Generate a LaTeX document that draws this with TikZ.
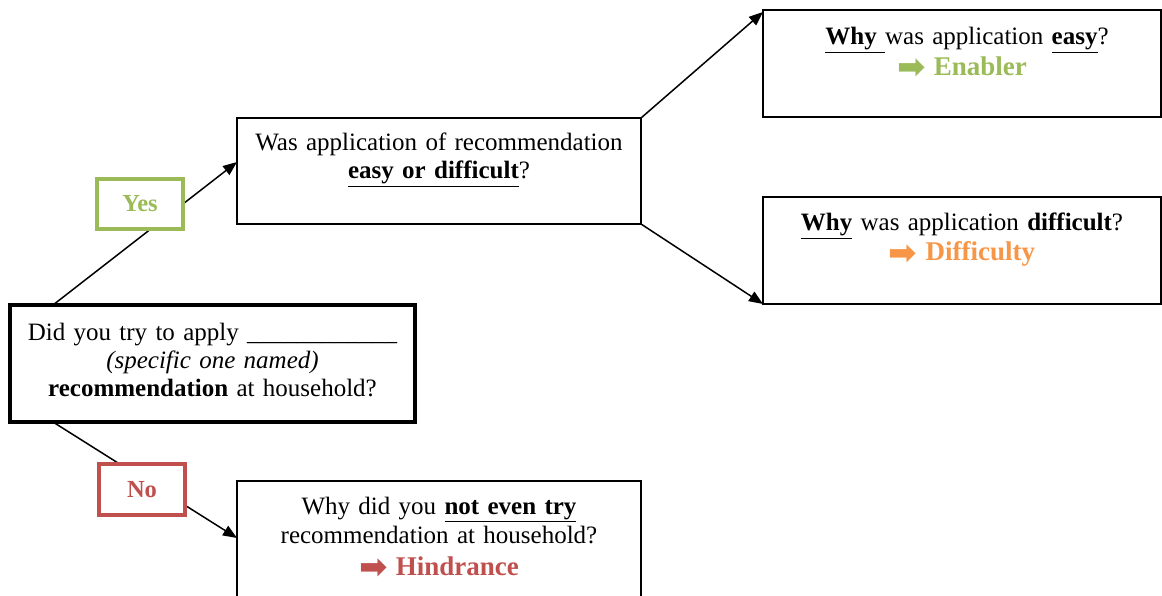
\documentclass[tikz,border=0pt]{standalone}
\usepackage{fontspec}
\setmainfont{Liberation Serif}
\newfontfamily\symfont{DejaVu Sans}
\usetikzlibrary{arrows.meta,calc}
\definecolor{okgreen}{HTML}{9BBB59}
\definecolor{difforange}{HTML}{F79646}
\definecolor{hindred}{HTML}{C0504D}
\newcommand{\bigarrow}{\raisebox{-3pt}{\symfont\fontsize{34}{34}\selectfont ➡}}
\begin{document}
\begin{tikzpicture}[x=1pt,y=-1pt,
  qbox/.style={draw, rectangle, line width=1.5pt, inner sep=0pt, outer sep=0pt, anchor=north west},
  qtext/.style={anchor=base, align=center, inner sep=0pt, text width=395pt, font=\fontsize{25}{28}\selectfont},
  tag/.style={draw, rectangle, line width=4pt, fill=white, inner sep=0pt, minimum width=86pt, font=\fontsize{24.5}{28}\selectfont\bfseries},
  conn/.style={line width=1.5pt, -{Triangle[length=14pt,width=11pt]}}]
\clip (0,0) rectangle (1162,596);
\fill[white] (0,0) rectangle (1162,596);

% boxes
\node[qbox, line width=4pt, minimum width=405pt, minimum height=117pt] (main) at (10,305) {};
\node[qbox, minimum width=404pt, minimum height=106pt] (mid) at (237,118) {};
\node[qbox, minimum width=398pt, minimum height=107pt] (easy) at (763,10) {};
\node[qbox, minimum width=398pt, minimum height=107pt] (hard) at (763,197) {};
\node[qbox, minimum width=404pt, minimum height=140pt] (nottry) at (237,481) {};

% texts
\node[qtext] (maint) at ($(main.north)+(0,35)$)
  {Did you try to apply \_\_\_\_\_\_\_\_\_\_\_\_\\
   \textit{(specific one named)}\\
   \textbf{recommendation} at household?};
\node[qtext] (midt) at ($(mid.north)+(0,33)$)
  {Was application of recommendation\\
   \underline{\textbf{easy or difficult}}?};
\node[qtext] (easyt) at ($(easy.north)+(0,35)$)
  {\hspace*{10pt}\underline{\textbf{Why}\ }was application \underline{\textbf{easy}}?\par
   \fontsize{27}{31}\selectfont\bfseries\color{okgreen}\bigarrow\ Enabler\par};
\node[qtext] (hardt) at ($(hard.north)+(0,34)$)
  {\underline{\textbf{Why}} was application \textbf{difficult}?\par
   \fontsize{27}{30}\selectfont\bfseries\color{difforange}\bigarrow\ Difficulty\par};
\node[qtext] (nottryt) at ($(nottry.north)+(0,33)$)
  {\fontsize{25}{29}\selectfont Why did you \underline{\textbf{not even try}}\\
   recommendation at household?\par
   \fontsize{27}{32}\selectfont\bfseries\color{hindred}\bigarrow\ Hindrance\par};

% connectors
\draw[conn] ($(main.north west)+(43,0)$) -- ($(mid.west)+(0,-9)$);
\draw[conn] ($(main.south west)+(43,0)$) -- ($(nottry.north west)+(0,57)$);
\draw[conn] (mid.north east) -- ($(easy.north west)+(0,2)$);
\draw[conn] (mid.south east) -- (hard.south west);

% yes / no tags
\node[tag, draw=okgreen, text=okgreen, minimum height=50pt] (yes) at (140,204) {Yes};
\node[tag, draw=hindred, text=hindred, minimum height=51pt] (no) at (142,489.5) {No};
\end{tikzpicture}
\end{document}
